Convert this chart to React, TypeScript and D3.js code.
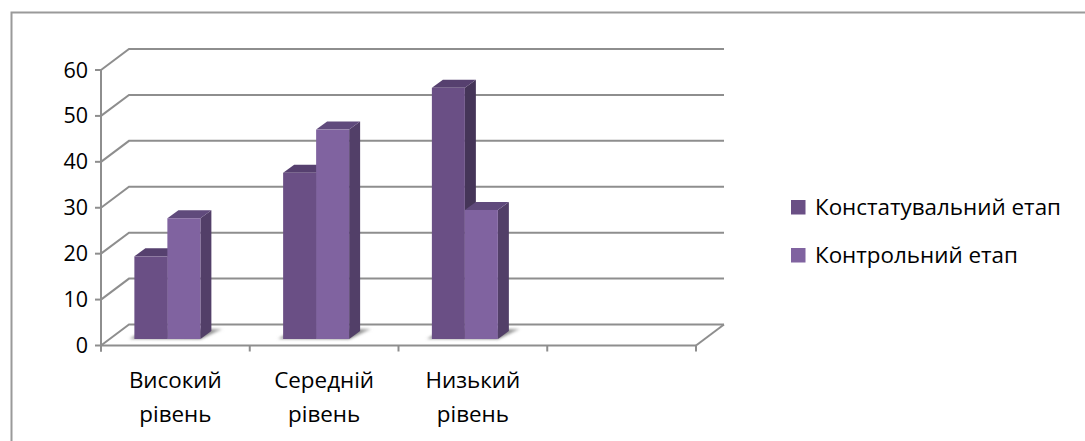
import * as d3 from "d3";
import React from 'react'

const categories = ["Високий рівень", "Середній рівень", "Низький рівень", ""]
const seriesNames = ["Констатувальний етап", "Контрольний етап"]
const konstatValues = [18, 36.2, 54.7]
const kontrolValues = [26.3, 45.6, 28.1]
const yTicks = [0, 10, 20, 30, 40, 50, 60]

const frontColors = ["#6a4f85", "#8063a0"]
const topColors = ["#56406f", "#604a7c"]
const sideColors = ["#453558", "#523f68"]
const axisColor = "#8e8e8e"
const fontFamily = "'Open Sans', sans-serif"

// wall depth of the fake 3d box and the smaller depth of the bars
const wall = { dx: 28, dy: -21 }
const barDepth = { dx: 11, dy: -8 }
const barShift = { dx: 8, dy: -6.5 }

const x = d3.scaleBand<string>().domain(categories).range([101, 696])
const y = d3.scaleLinear().domain([0, 60]).range([345.5, 70])
const inner = d3.scaleBand<number>().domain([0, 1]).range([0, 66])

const pts = (p: [number, number][]) => p.map(d => d.join(",")).join(" ")

const App: React.FC = () => {
  const series = [konstatValues, kontrolValues]
  const xEnd = x.range()[1]
  const xStart = x.range()[0]
  const ticksX = [...categories.map(c => x(c) as number), xEnd]

  return (
    <svg width={1085} height={441} style={{ position: "absolute", left: 0, top: 0, background: "#fff" }}>
      <defs>
        <filter id="soft" x="-30%" y="-100%" width="160%" height="300%">
          <feGaussianBlur stdDeviation="1.8" />
        </filter>
        <filter id="aa" x="-5%" y="-5%" width="110%" height="110%">
          <feGaussianBlur stdDeviation="0.4" />
        </filter>
        <linearGradient id="shadow" x1="0" x2="1" y1="0" y2="0">
          <stop offset="0" stopColor="#9a9a9a" />
          <stop offset="0.75" stopColor="#6e6e6e" />
          <stop offset="1" stopColor="#b5b5b5" />
        </linearGradient>
      </defs>

      {/* outer frame, only top and left are visible */}
      <path d="M11.5,441 V12.5 H1085" fill="none" stroke="#9a9a9a" strokeWidth={2} />

      <g filter="url(#aa)">
        {/* grid lines with the wall returns */}
        {yTicks.map(t => (
          <polyline key={t} fill="none" stroke={axisColor} strokeWidth={2}
            points={pts([[xStart, y(t)], [xStart + wall.dx, y(t) + wall.dy], [xEnd + wall.dx, y(t) + wall.dy]])} />
        ))}
        <polyline fill="none" stroke={axisColor} strokeWidth={2}
          points={pts([[xEnd, y(0)], [xEnd + wall.dx, y(0) + wall.dy]])} />

        {/* axes */}
        <line x1={xStart} x2={xStart} y1={y(60)} y2={y(0) + 6} stroke={axisColor} strokeWidth={2} />
        <line x1={xStart} x2={xEnd} y1={y(0)} y2={y(0)} stroke={axisColor} strokeWidth={2} />
        {yTicks.map(t => (
          <line key={t} x1={xStart - 6} x2={xStart} y1={y(t)} y2={y(t)} stroke={axisColor} strokeWidth={2} />
        ))}
        {ticksX.map((t, i) => (
          <line key={i} x1={t} x2={t} y1={y(0)} y2={y(0) + 6} stroke={axisColor} strokeWidth={2} />
        ))}
      </g>

      {/* bars */}
      {categories.slice(0, 3).map((c, ci) => {
        const groupX = (x(c) as number) + (x.bandwidth() - inner.range()[1]) / 2 - barShift.dx
        return (
          <g key={c}>
            <polygon filter="url(#soft)" fill="url(#shadow)"
              points={pts([
                [groupX - 5, y(0) + barShift.dy],
                [groupX + 66, y(0) + barShift.dy],
                [groupX + 66 + 22, y(0) + barShift.dy - 10],
                [groupX + 12, y(0) + barShift.dy - 10],
              ])} />
            {[0, 1].map(si => {
              const v = series[si][ci]
              const x0 = groupX + (inner(si) as number)
              const x1 = x0 + inner.bandwidth()
              const base = y(0) + barShift.dy
              const top = base - (y(0) - y(v))
              return (
                <g key={si}>
                  <polygon fill={sideColors[si]} points={pts([[x1, base], [x1 + barDepth.dx, base + barDepth.dy], [x1 + barDepth.dx, top + barDepth.dy], [x1, top]])} />
                  <polygon fill={topColors[si]} points={pts([[x0, top], [x0 + barDepth.dx, top + barDepth.dy], [x1 + barDepth.dx, top + barDepth.dy], [x1, top]])} />
                  <rect x={x0} y={top} width={inner.bandwidth()} height={base - top} fill={frontColors[si]} />
                </g>
              )
            })}
          </g>
        )
      })}

      {/* y labels */}
      {yTicks.map(t => (
        <text key={t} x={88} y={y(t) + 7.5} textAnchor="end" fontSize={21.5} fill="#000" fontFamily={fontFamily}>{t}</text>
      ))}

      {/* category labels, two lines each */}
      {categories.slice(0, 3).map(c => {
        const cx = (x(c) as number) + x.bandwidth() / 2
        return (
          <text key={c} textAnchor="middle" fontSize={22.4} fill="#000" fontFamily={fontFamily}>
            {c.split(" ").map((w, i) => (
              <tspan key={w} x={cx} y={388 + i * 34}>{w}</tspan>
            ))}
          </text>
        )
      })}

      {/* legend */}
      {seriesNames.map((s, i) => (
        <g key={s}>
          <rect x={791} y={200 + i * 48} width={14.5} height={14.5} fill={frontColors[i]} />
          <text x={815} y={214.5 + i * 48} fontSize={22.4} fill="#000" fontFamily={fontFamily}>{s}</text>
        </g>
      ))}
    </svg>
  )
}

export default App
